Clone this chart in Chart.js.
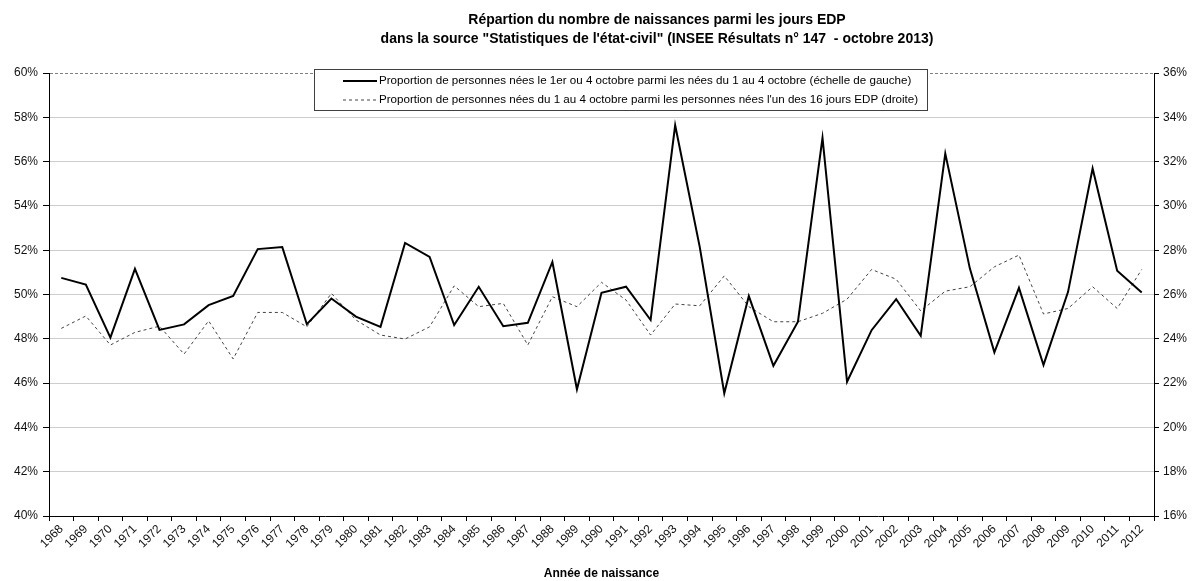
<!DOCTYPE html>
<html>
<head>
<meta charset="utf-8">
<script src="https://cdn.jsdelivr.net/npm/chart.js@4.4.0/dist/chart.umd.min.js"></script>
<style>
  body { margin: 0; background: #fff; }
  #wrap { width: 1193px; height: 581px; }
</style>
</head>
<body>
<div id="wrap"><canvas id="myChart" width="1193" height="581"></canvas></div>
<script>
const titleLines = [
    'Répartion du nombre de naissances parmi les jours EDP',
    'dans la source "Statistiques de l\'état-civil" (INSEE Résultats n° 147  - octobre 2013)'
];
const xTitle = 'Année de naissance';

const years = [];
for (let y = 1968; y <= 2012; y++) years.push(String(y));

// share of births on 1 or 4 October among births 1-4 October (left axis, %)
const share1and4 = [
    50.75, 50.45, 48.05, 51.16, 48.40, 48.65, 49.52, 49.93, 52.05, 52.14,
    48.66, 49.82, 49.00, 48.54, 52.33, 51.70, 48.62, 50.35, 48.57, 48.72,
    51.47, 45.72, 50.08, 50.35, 48.85, 57.64, 52.15, 45.54, 49.93, 46.78,
    48.77, 57.07, 46.06, 48.39, 49.79, 48.14, 56.36, 51.18, 47.39, 50.30,
    46.82, 50.12, 55.69, 51.07, 50.09
];

// share of births 1-4 October among births on the 16 EDP days (right axis, %)
const share1to4 = [
    24.47, 25.03, 23.72, 24.29, 24.57, 23.31, 24.81, 23.09, 25.19, 25.19,
    24.54, 26.05, 24.85, 24.17, 23.99, 24.54, 26.39, 25.45, 25.60, 23.72,
    25.90, 25.45, 26.55, 25.75, 24.17, 25.57, 25.49, 26.84, 25.45, 24.77,
    24.77, 25.15, 25.79, 27.13, 26.69, 25.26, 26.15, 26.35, 27.25, 27.78,
    25.12, 25.37, 26.35, 25.37, 27.13
];

const seriesLabels = [
    'Proportion de personnes nées le 1er ou 4 octobre parmi les nées du 1 au 4 octobre (échelle de gauche)',
    'Proportion de personnes nées du 1 au 4 octobre parmi les personnes nées l\'un des 16 jours EDP (droite)'
];

const tickFont = { family: 'Liberation Sans, Arial, sans-serif', size: 12 };

// title + boxed legend, drawn over the chart like the original
const decor = {
    id: 'decor',
    afterDraw(chart) {
        const ctx = chart.ctx;
        ctx.save();
        ctx.fillStyle = '#000';
        ctx.textAlign = 'center';
        ctx.textBaseline = 'middle';
        ctx.font = 'bold 14px "Liberation Sans", Arial, sans-serif';
        ctx.fillText(titleLines[0], 657, 20);
        ctx.fillText(titleLines[1], 657, 39);

        ctx.font = '11.6px "Liberation Sans", Arial, sans-serif';
        const ds = chart.data.datasets;
        let w = 0;
        ds.forEach(d => { w = Math.max(w, ctx.measureText(d.label).width); });
        const bx = 314.5, by = 69.5, bw = Math.round(379 - 314 + w + 9), bh = 41;
        ctx.fillStyle = '#fff';
        ctx.fillRect(bx, by, bw, bh);
        ctx.strokeStyle = '#404040';
        ctx.lineWidth = 1;
        ctx.strokeRect(bx, by, bw, bh);

        ctx.textAlign = 'left';
        ds.forEach((d, i) => {
            const yy = 81 + i * 19;
            ctx.beginPath();
            ctx.strokeStyle = d.borderColor;
            ctx.lineWidth = d.borderWidth;
            ctx.setLineDash(d.borderDash || []);
            ctx.moveTo(343, yy);
            ctx.lineTo(377, yy);
            ctx.stroke();
            ctx.setLineDash([]);
            ctx.fillStyle = '#000';
            ctx.fillText(d.label, 379, yy);
        });
        ctx.restore();
    }
};

const config = {
    type: 'line',
    data: {
        labels: years,
        datasets: [{
            label: seriesLabels[0],
            data: share1and4,
            borderColor: '#000',
            backgroundColor: '#000',
            borderWidth: 2,
            pointRadius: 0,
            tension: 0,
            yAxisID: 'y'
        }, {
            label: seriesLabels[1],
            data: share1to4,
            borderColor: '#444',
            backgroundColor: '#444',
            borderWidth: 1,
            borderDash: [3, 3],
            pointRadius: 0,
            tension: 0,
            yAxisID: 'y1'
        }]
    },
    options: {
        responsive: false,
        animation: false,
        layout: { padding: { top: 73, left: 0, right: 0, bottom: 0 } },
        plugins: {
            legend: { display: false },
            title: { display: false },
            tooltip: { enabled: false }
        },
        scales: {
            x: {
                offset: true,
                grid: {
                    offset: true,
                    drawOnChartArea: false,
                    tickLength: 5,
                    color: '#000',
                    tickColor: '#000'
                },
                border: { color: '#000', width: 1 },
                ticks: {
                    autoSkip: false,
                    minRotation: 45,
                    maxRotation: 45,
                    padding: 1,
                    color: '#111',
                    font: tickFont
                },
                title: {
                    display: true,
                    text: xTitle,
                    color: '#000',
                    font: { family: 'Liberation Sans, Arial, sans-serif', size: 12, weight: 'bold' },
                    padding: { top: 2, bottom: 0 }
                },
                afterFit: s => { s.height = 65; }
            },
            y: {
                position: 'left',
                min: 40,
                max: 60,
                ticks: {
                    stepSize: 2,
                    padding: 5,
                    color: '#111',
                    font: tickFont,
                    callback: v => v + '%'
                },
                grid: {
                    color: c => (c.tick && c.tick.value === 60) ? '#808080' : '#cdcdcd',
                    tickColor: '#000',
                    tickLength: 6
                },
                border: {
                    color: '#000',
                    dash: c => (c.tick && c.tick.value === 60) ? [3, 2] : []
                },
                afterFit: s => { s.width = 49; }
            },
            y1: {
                position: 'right',
                min: 16,
                max: 36,
                ticks: {
                    stepSize: 2,
                    padding: 4,
                    color: '#111',
                    font: tickFont,
                    callback: v => v + '%'
                },
                grid: {
                    drawOnChartArea: false,
                    color: '#000',
                    tickLength: 5
                },
                border: { color: '#000' },
                afterFit: s => { s.width = 39; }
            }
        }
    },
    plugins: [decor]
};

const myChart = new Chart(document.getElementById('myChart'), config);
</script>
</body>
</html>
